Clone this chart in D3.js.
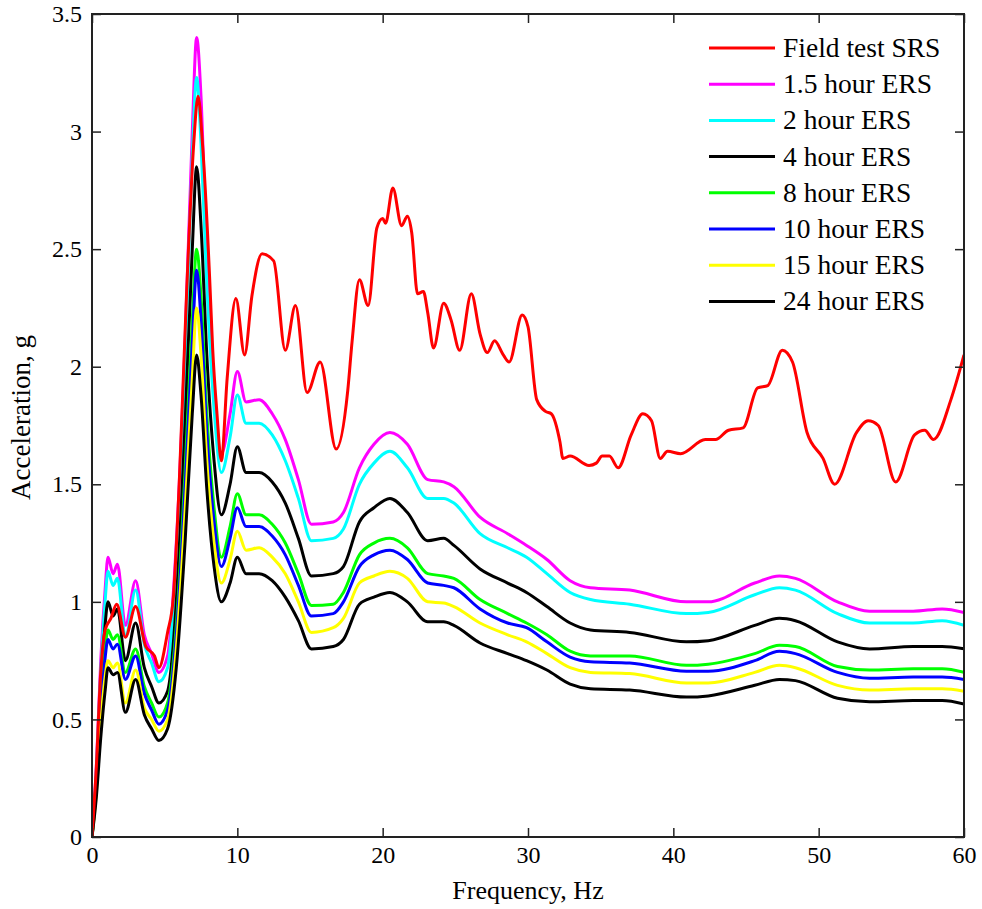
<!DOCTYPE html>
<html>
<head>
<meta charset="utf-8">
<script src="https://cdn.jsdelivr.net/npm/d3@7"></script>
<style>
  body { margin: 0; background: #fff; }
  svg text { font-family: "Liberation Serif", "Times New Roman", serif; fill: #000; }
</style>
</head>
<body>
<svg id="chart" width="982" height="909"></svg>
<script>
// frequency grid shared by the ERS curves (Hz)
var ersFreq = [0, 0.3, 0.6, 0.9, 1.1, 1.45, 1.75, 2.3, 3.0, 3.6, 4.1, 4.6, 5.2, 5.8, 6.4, 6.9, 7.2, 7.5, 7.9, 8.4,
  8.9, 9.5, 10.0, 10.6, 11.5, 12.4, 13.3, 14.2, 15.1, 16.6, 17.3, 18.4, 19.4, 20.5, 21.7, 23.1, 24.2, 24.9, 26.7, 28.6,
  29.9, 31.3, 32.9, 34.3, 37.0, 40.9, 42.4, 45.6, 47.3, 48.4, 51.3, 53.5, 56.5, 58.5, 60]

var ers1_5h = [0, 0.3, 0.75, 1.05, 1.19, 1.12, 1.16, 0.9, 1.09, 0.86, 0.78, 0.70, 0.77, 1.25, 2.1, 3.0, 3.40, 3.15, 2.45, 1.9,
  1.63, 1.8, 1.98, 1.85, 1.86, 1.80, 1.69, 1.52, 1.33, 1.34, 1.38, 1.57, 1.67, 1.72, 1.67, 1.52, 1.51, 1.49, 1.36, 1.29,
  1.24, 1.18, 1.09, 1.06, 1.05, 1.00, 1.00, 1.08, 1.11, 1.10, 1.00, 0.96, 0.96, 0.97, 0.955]
var ers2h = [0, 0.28, 0.7, 1.0, 1.13, 1.07, 1.10, 0.85, 1.05, 0.82, 0.74, 0.66, 0.72, 1.18, 2.0, 2.9, 3.23, 2.95, 2.35, 1.82,
  1.55, 1.7, 1.88, 1.76, 1.76, 1.71, 1.6, 1.44, 1.26, 1.27, 1.31, 1.50, 1.59, 1.64, 1.57, 1.44, 1.44, 1.42, 1.29, 1.23,
  1.19, 1.12, 1.04, 1.01, 0.99, 0.95, 0.955, 1.03, 1.06, 1.05, 0.95, 0.91, 0.91, 0.92, 0.90]
var ers4h = [0, 0.25, 0.6, 0.9, 1.00, 0.94, 0.97, 0.75, 0.91, 0.72, 0.64, 0.57, 0.62, 1.0, 1.75, 2.5, 2.85, 2.6, 2.05, 1.6,
  1.37, 1.5, 1.66, 1.55, 1.55, 1.51, 1.42, 1.27, 1.11, 1.12, 1.15, 1.34, 1.40, 1.44, 1.38, 1.26, 1.27, 1.24, 1.14, 1.08,
  1.04, 0.98, 0.91, 0.88, 0.87, 0.83, 0.835, 0.90, 0.93, 0.92, 0.83, 0.80, 0.81, 0.81, 0.80]
var ers8h = [0, 0.22, 0.55, 0.8, 0.88, 0.84, 0.86, 0.70, 0.80, 0.64, 0.57, 0.51, 0.57, 0.9, 1.55, 2.2, 2.50, 2.3, 1.8, 1.4,
  1.19, 1.32, 1.46, 1.37, 1.37, 1.33, 1.25, 1.12, 0.985, 0.99, 1.04, 1.20, 1.25, 1.27, 1.23, 1.12, 1.11, 1.10, 1.01, 0.95,
  0.91, 0.86, 0.79, 0.77, 0.77, 0.73, 0.735, 0.78, 0.815, 0.81, 0.725, 0.71, 0.715, 0.715, 0.70]
var ers10h = [0, 0.21, 0.52, 0.76, 0.84, 0.80, 0.82, 0.67, 0.77, 0.61, 0.54, 0.48, 0.54, 0.86, 1.48, 2.1, 2.41, 2.2, 1.72, 1.34,
  1.15, 1.27, 1.40, 1.32, 1.32, 1.28, 1.20, 1.07, 0.94, 0.95, 1.00, 1.15, 1.20, 1.22, 1.18, 1.08, 1.07, 1.06, 0.97, 0.91,
  0.89, 0.83, 0.765, 0.745, 0.74, 0.705, 0.705, 0.75, 0.79, 0.78, 0.70, 0.675, 0.68, 0.68, 0.67]
var ers15h = [0, 0.19, 0.48, 0.68, 0.75, 0.72, 0.74, 0.57, 0.71, 0.55, 0.50, 0.45, 0.50, 0.8, 1.38, 1.95, 2.25, 2.05, 1.6, 1.25,
  1.08, 1.18, 1.30, 1.22, 1.23, 1.19, 1.12, 1.0, 0.87, 0.89, 0.93, 1.08, 1.11, 1.13, 1.10, 1.00, 0.995, 0.98, 0.91, 0.86,
  0.83, 0.78, 0.72, 0.70, 0.695, 0.655, 0.655, 0.70, 0.73, 0.72, 0.645, 0.625, 0.63, 0.63, 0.62]
var ers24h = [0, 0.17, 0.42, 0.62, 0.72, 0.69, 0.70, 0.53, 0.67, 0.52, 0.46, 0.41, 0.46, 0.72, 1.25, 1.8, 2.05, 1.88, 1.48, 1.15,
  1.00, 1.08, 1.19, 1.12, 1.12, 1.09, 1.02, 0.92, 0.80, 0.81, 0.84, 0.99, 1.02, 1.04, 1.00, 0.915, 0.915, 0.90, 0.825, 0.78,
  0.75, 0.71, 0.65, 0.63, 0.625, 0.595, 0.60, 0.645, 0.67, 0.665, 0.59, 0.575, 0.58, 0.58, 0.565]

// field test SRS has its own, denser frequency list
var srsFreq = [0, 0.3, 0.6, 0.9, 1.3, 1.7, 2.3, 3.0, 3.7, 4.3, 4.6, 5.2, 5.6, 6.0, 6.5, 7.0, 7.3, 7.6, 8.1, 8.3,
  8.6, 8.9, 9.3, 9.9, 10.5, 11.0, 11.7, 12.5, 13.3, 14.0, 14.8, 15.7, 16.8, 17.6, 17.9, 18.4, 19.0, 19.6, 20.0, 20.2,
  20.7, 21.3, 21.7, 22.0, 22.4, 22.8, 23.1, 23.5, 24.2, 24.7, 25.3, 26.1, 26.7, 27.2, 27.7, 28.3, 28.7, 29.6, 30.0, 30.6,
  31.2, 31.6, 32.2, 32.4, 32.9, 34.2, 34.7, 35.1, 35.6, 36.2, 37.1, 37.9, 38.5, 39.1, 39.6, 40.5, 42.2, 42.9, 43.8, 44.8,
  45.8, 46.5, 47.5, 48.2, 49.2, 50.3, 51.1, 52.6, 53.4, 54.1, 55.3, 56.6, 57.3, 57.9, 59.1, 60]
var srsVal = [0, 0.3, 0.7, 0.88, 0.93, 0.99, 0.85, 0.98, 0.81, 0.77, 0.72, 0.87, 1.02, 1.5, 2.3, 2.95, 3.15, 2.95, 2.37, 2.08,
  1.80, 1.60, 1.95, 2.29, 2.05, 2.30, 2.48, 2.45, 2.07, 2.26, 1.89, 2.02, 1.65, 1.90, 2.11, 2.37, 2.26, 2.59, 2.63, 2.61,
  2.76, 2.60, 2.64, 2.57, 2.31, 2.32, 2.23, 2.08, 2.27, 2.20, 2.07, 2.31, 2.14, 2.06, 2.11, 2.05, 2.02, 2.22, 2.17, 1.86,
  1.81, 1.80, 1.68, 1.61, 1.62, 1.58, 1.59, 1.62, 1.62, 1.57, 1.71, 1.80, 1.77, 1.61, 1.64, 1.63, 1.69, 1.69, 1.73, 1.74,
  1.91, 1.92, 2.07, 2.02, 1.72, 1.61, 1.50, 1.72, 1.77, 1.75, 1.51, 1.71, 1.73, 1.69, 1.86, 2.05]

var seriesNames = ['Field test SRS', '1.5 hour ERS', '2 hour ERS', '4 hour ERS', '8 hour ERS', '10 hour ERS', '15 hour ERS', '24 hour ERS']
var seriesColors = ['#ff0000', '#ff00ff', '#00ffff', '#000000', '#00ff00', '#0000ff', '#ffff00', '#000000']
var xTicks = [0, 10, 20, 30, 40, 50, 60]
var yTicks = [0, 0.5, 1, 1.5, 2, 2.5, 3, 3.5]

var margin = { top: 14, right: 18, bottom: 72, left: 92 }
var width = 982 - margin.left - margin.right
var height = 909 - margin.top - margin.bottom

var svg = d3.select('#chart')
var g = svg.append('g').attr('transform', 'translate(' + margin.left + ',' + margin.top + ')')

var x = d3.scaleLinear().domain([0, 60]).range([0, width])
var y = d3.scaleLinear().domain([0, 3.5]).range([height, 0])

function zip (fs, vs) {
  return fs.map(function (f, i) { return { f: f, v: vs[i] } })
}

var series = [
  zip(srsFreq, srsVal),
  zip(ersFreq, ers1_5h),
  zip(ersFreq, ers2h),
  zip(ersFreq, ers4h),
  zip(ersFreq, ers8h),
  zip(ersFreq, ers10h),
  zip(ersFreq, ers15h),
  zip(ersFreq, ers24h)
]

var line = d3.line()
  .x(function (d) { return x(d.f) })
  .y(function (d) { return y(d.v) })
  .curve(d3.curveMonotoneX)

g.append('clipPath').attr('id', 'clip')
  .append('rect').attr('width', width).attr('height', height)

// draw red last so it sits over the ERS lines near the peak, like the original
var order = [1, 2, 3, 4, 5, 6, 7, 0]
g.append('g').attr('clip-path', 'url(#clip)')
  .selectAll('path')
  .data(order)
  .enter().append('path')
  .attr('d', function (i) { return line(series[i]) })
  .attr('fill', 'none')
  .attr('stroke', function (i) { return seriesColors[i] })
  .attr('stroke-width', 3)
  .attr('stroke-linejoin', 'round')

// axes: MATLAB style box, ticks pointing inward on all four sides
var tickLen = 9
var axisBottom = d3.axisBottom(x).tickValues(xTicks).tickSize(-tickLen).tickPadding(9)
var axisLeft = d3.axisLeft(y).tickValues(yTicks).tickSize(-tickLen).tickPadding(10)
  .tickFormat(function (d) { return d })

var gx = g.append('g').attr('transform', 'translate(0,' + height + ')').call(axisBottom)
var gy = g.append('g').call(axisLeft)
g.append('g').call(d3.axisTop(x).tickValues(xTicks).tickSize(-tickLen).tickFormat(''))
g.append('g').attr('transform', 'translate(' + width + ',0)')
  .call(d3.axisRight(y).tickValues(yTicks).tickSize(-tickLen).tickFormat(''))

g.selectAll('.domain').remove()
g.selectAll('.tick line').attr('stroke', '#222').attr('stroke-width', 1.5)
gx.selectAll('text').attr('font-size', 24).attr('fill', '#000')
gy.selectAll('text').attr('font-size', 24).attr('fill', '#000')

g.append('rect')
  .attr('width', width).attr('height', height)
  .attr('fill', 'none').attr('stroke', '#222').attr('stroke-width', 2)

g.append('text')
  .attr('x', width / 2).attr('y', height + 62)
  .attr('text-anchor', 'middle').attr('font-size', 26)
  .text('Frequency, Hz')

g.append('text')
  .attr('transform', 'translate(-62,' + (height / 2 - 8) + ') rotate(-90)')
  .attr('text-anchor', 'middle').attr('font-size', 27)
  .text('Acceleration, g')

// legend, no box
var legend = g.append('g').attr('transform', 'translate(617,34)')
var rows = legend.selectAll('g').data(seriesNames).enter().append('g')
  .attr('transform', function (d, i) { return 'translate(0,' + (i * 36.2) + ')' })
rows.append('line')
  .attr('x1', 0).attr('x2', 66)
  .attr('stroke', function (d, i) { return seriesColors[i] })
  .attr('stroke-width', 3)
rows.append('text')
  .attr('x', 74).attr('y', 9)
  .attr('font-size', 27.5)
  .text(function (d) { return d })
</script>
</body>
</html>
